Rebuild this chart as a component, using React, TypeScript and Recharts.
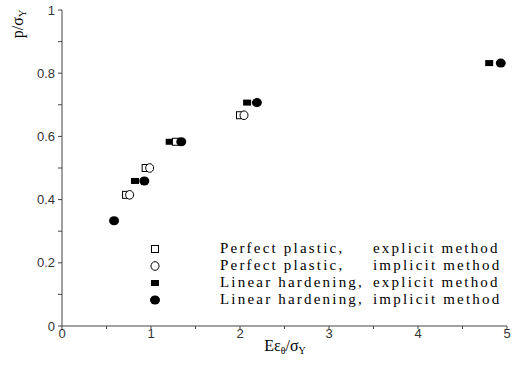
import {
  Legend,
  Scatter,
  ScatterChart,
  XAxis,
  YAxis,
} from 'recharts';

// values
const ppExplicitX = [0.72, 0.94, 1.28, 2.0];
const ppExplicitY = [0.415, 0.5, 0.583, 0.667];
const ppImplicitX = [0.76, 0.985, 2.045];
const ppImplicitY = [0.415, 0.5, 0.667];
const lhExplicitX = [0.82, 1.21, 2.08, 4.8];
const lhExplicitY = [0.459, 0.583, 0.707, 0.832];
const lhImplicitX = [0.585, 0.925, 1.34, 2.19, 4.93];
const lhImplicitY = [0.333, 0.459, 0.583, 0.707, 0.832];

const xTicks = [0, 0.5, 1, 1.5, 2, 2.5, 3, 3.5, 4, 4.5, 5];
const yTicks = [0, 0.1, 0.2, 0.3, 0.4, 0.5, 0.6, 0.7, 0.8, 0.9, 1];

const seriesNames = [
  ['Perfect plastic,', 'explicit method'],
  ['Perfect plastic,', 'implicit method'],
  ['Linear hardening,', 'explicit method'],
  ['Linear hardening,', 'implicit method'],
];

const toPoints = (xs: number[], ys: number[]) =>
  xs.map((x, i) => ({ x, y: ys[i] }));

const tickFont = '"Liberation Sans", Arial, sans-serif';
const serif = '"Liberation Serif", "Times New Roman", serif';

function OpenSquare(p: any) {
  return (
    <rect x={p.cx - 3.5} y={p.cy - 3.5} width={7} height={7} fill="#fff" stroke="#000" strokeWidth={1} />
  );
}
function OpenCircle(p: any) {
  return <ellipse cx={p.cx} cy={p.cy} rx={4} ry={4.3} fill="#fff" stroke="#000" strokeWidth={1} />;
}
function FilledSquare(p: any) {
  return <rect x={p.cx - 4} y={p.cy - 3} width={8} height={6} fill="#000" />;
}
function FilledCircle(p: any) {
  return <ellipse cx={p.cx} cy={p.cy} rx={5} ry={4.5} fill="#000" />;
}

const shapes = [OpenSquare, OpenCircle, FilledSquare, FilledCircle];

function XTick({ x, y, payload }: any) {
  if (!Number.isInteger(payload.value)) return <g />;
  return (
    <text x={x} y={y} dy="0.72em" textAnchor="middle" fontSize={13} fill="#333" fontFamily={tickFont}>
      {payload.value}
    </text>
  );
}

function YTick({ x, y, payload }: any) {
  const v = Math.round(payload.value * 10);
  if (v % 2 !== 0) return <g />;
  return (
    <text x={x} y={y} dy="0.36em" textAnchor="end" fontSize={13} fill="#333" fontFamily={tickFont}>
      {v === 0 ? '0' : v === 10 ? '1' : (v / 10).toFixed(1)}
    </text>
  );
}

function LegendBox() {
  return (
    <div style={{ fontFamily: serif, fontSize: 15, letterSpacing: 2.2, color: '#000', lineHeight: '17px' }}>
      {seriesNames.map((n, i) => {
        const Shape = shapes[i];
        return (
          <div key={i} style={{ display: 'flex', alignItems: 'center', height: 17 }}>
            <svg width={12} height={12} style={{ marginRight: 59 }}>
              <Shape cx={6} cy={6} />
            </svg>
            <span style={{ width: 153, whiteSpace: 'nowrap' }}>{n[0]}</span>
            <span style={{ whiteSpace: 'nowrap' }}>{n[1]}</span>
          </div>
        );
      })}
    </div>
  );
}

export default function App() {
  return (
    <div style={{ position: 'absolute', left: 0, top: 0, width: 514, height: 366, background: '#fff' }}>
      <ScatterChart width={514} height={366} margin={{ top: 10, right: 7, bottom: 0, left: 0 }}>
        <XAxis
          type="number"
          dataKey="x"
          domain={[0, 5]}
          ticks={xTicks}
          interval={0}
          height={40}
          tickSize={3}
          tickMargin={0}
          stroke="#444"
          tick={<XTick />}
          label={{
            content: () => (
              <text x={285} y={351} textAnchor="middle" fontFamily={serif} fontSize={16} fill="#000">
                Eε<tspan fontSize={10} dy={3}>θ</tspan>
                <tspan dy={-3}>/σ</tspan>
                <tspan fontSize={10} dy={3}>Y</tspan>
              </text>
            ),
          }}
        />
        <YAxis
          type="number"
          dataKey="y"
          domain={[0, 1]}
          ticks={yTicks}
          interval={0}
          width={62}
          tickSize={4}
          tickMargin={3}
          stroke="#444"
          tick={<YTick />}
          label={{
            content: () => (
              <text
                x={23}
                y={24}
                transform="rotate(-90, 23, 24)"
                textAnchor="middle"
                fontFamily={serif}
                fontSize={16}
                fill="#000"
              >
                p/σ<tspan fontSize={10} dy={3}>Y</tspan>
              </text>
            ),
          }}
        />
        <Scatter data={toPoints(lhExplicitX, lhExplicitY)} shape={FilledSquare} isAnimationActive={false} />
        <Scatter data={toPoints(ppExplicitX, ppExplicitY)} shape={OpenSquare} isAnimationActive={false} />
        <Scatter data={toPoints(ppImplicitX, ppImplicitY)} shape={OpenCircle} isAnimationActive={false} />
        <Scatter data={toPoints(lhImplicitX, lhImplicitY)} shape={FilledCircle} isAnimationActive={false} />
        <Legend
          layout="vertical"
          align="center"
          verticalAlign="middle"
          content={() => <LegendBox />}
          wrapperStyle={{ position: 'absolute', left: 149, top: 240, width: 'auto', height: 'auto' }}
        />
      </ScatterChart>
    </div>
  );
}
